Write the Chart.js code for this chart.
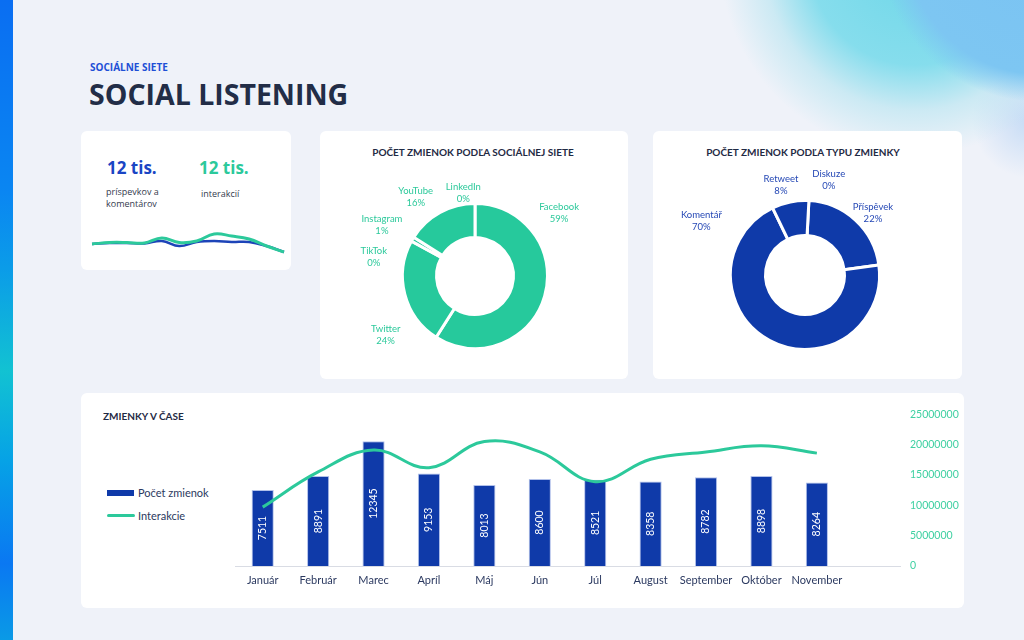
<!DOCTYPE html>
<html lang="sk">
<head>
<meta charset="utf-8">
<title>Social Listening</title>
<script src="https://cdn.jsdelivr.net/npm/chart.js@4.4.1/dist/chart.umd.min.js"></script>
<style>
  html, body { margin: 0; padding: 0; }
  body {
    width: 1024px; height: 640px; overflow: hidden; position: relative;
    font-family: Lato, 'Open Sans', sans-serif;
    background:
      radial-gradient(circle at 1040px -60px, rgba(122,195,243,1) 0, rgba(125,198,242,1) 134px, rgba(150,210,245,0) 162px),
      radial-gradient(circle at 915px -40px, rgba(110,215,232,1) 0, rgba(128,220,236,.95) 105px, rgba(180,228,240,.6) 150px, rgba(239,242,249,0) 195px),
      radial-gradient(circle at 1030px 120px, rgba(190,215,245,.85) 0, rgba(239,242,249,0) 58px),
      #eff2f9;
  }
  .strip {
    position: absolute; left: 0; top: 0; width: 13px; height: 640px;
    background: linear-gradient(180deg, #0a6ef2 0%, #0a86f2 30%, #0b9ce8 42%, #12c2d2 58%, #06a2e6 72%, #0a78f2 88%, #0a9ae6 100%);
  }
  .card { position: absolute; background: #fff; border-radius: 6px; }
  .abs { position: absolute; white-space: nowrap; }
  .kicker { left: 90px; top: 61px; font: 700 10px/12px 'Open Sans', sans-serif; color: #1d4fd6; }
  .title { left: 89px; top: 75px; font: 700 28.5px/38px 'Open Sans', sans-serif; color: #222d47; }
  .kpi { font: 700 17px/20px 'Open Sans', sans-serif; }
  .sub { font: 400 9px/12px 'Open Sans', sans-serif; color: #343b4e; }
  .ctitle { font: 700 10px/12px Lato, sans-serif; color: #1f2a44; }
  canvas { position: absolute; }
  .leg { font: 400 11px/14px Lato, sans-serif; color: #2b3960; }
</style>
</head>
<body>
<div class="strip"></div>

<div class="abs kicker">SOCIÁLNE SIETE</div>
<div class="abs title">SOCIAL LISTENING</div>

<div class="card" style="left:81px;top:131px;width:210px;height:139px"></div>
<div class="card" style="left:320px;top:131px;width:308px;height:248px"></div>
<div class="card" style="left:653px;top:131px;width:309px;height:248px"></div>
<div class="card" style="left:81px;top:393px;width:883px;height:215px"></div>

<div class="abs kpi" style="left:107px;top:158px;color:#1a45c4">12 tis.</div>
<div class="abs kpi" style="left:199px;top:158px;color:#2cc99b">12 tis.</div>
<div class="abs sub" style="left:106px;top:186px">príspevkov a<br>komentárov</div>
<div class="abs sub" style="left:201px;top:188px">interakcií</div>
<canvas id="spark" width="196" height="33" style="left:90px;top:225px;width:196px;height:33px"></canvas>

<div class="abs ctitle" style="left:320px;width:306px;text-align:center;top:146px">POČET ZMIENOK PODĽA SOCIÁLNEJ SIETE</div>
<canvas id="donutNet" width="300" height="220" style="left:325px;top:166px;width:300px;height:220px"></canvas>

<div class="abs ctitle" style="left:653px;width:300px;text-align:center;top:146px">POČET ZMIENOK PODĽA TYPU ZMIENKY</div>
<canvas id="donutType" width="300" height="220" style="left:655px;top:165px;width:300px;height:220px"></canvas>

<div class="abs ctitle" style="left:103px;top:410px">ZMIENKY V ČASE</div>
<div class="abs" style="left:107px;top:490px;width:27px;height:6px;background:#0f3aa9"></div>
<div class="abs leg" id="legBar" style="left:138px;top:486px"></div>
<div class="abs" style="left:107px;top:514px;width:28px;height:3px;background:#2cc99b;border-radius:2px"></div>
<div class="abs leg" id="legLine" style="left:138px;top:509px"></div>
<canvas id="timeline" width="730" height="198" style="left:235px;top:398px;width:730px;height:198px"></canvas>

<script>
// --- data ---
const months = ['Január', 'Február', 'Marec', 'Apríl', 'Máj', 'Jún', 'Júl', 'August', 'September', 'Október', 'November', ''];
const mentions = [7511, 8891, 12345, 9153, 8013, 8600, 8521, 8358, 8782, 8898, 8264, null];
const interactions = [9700000, 15500000, 19100000, 16200000, 20500000, 18800000, 13900000, 17600000, 18800000, 19800000, 18600000, null];

const networks = ['Facebook', 'Twitter', 'TikTok', 'Instagram', 'YouTube', 'LinkedIn'];
const networkShare = [59, 24, 0, 1, 16, 0];

const mentionTypes = ['Příspěvek', 'Komentář', 'Retweet', 'Diskuze'];
const typeShare = [22, 70, 8, 0];

const sparkInteractions = [14, 15.5, 15.5, 15, 20, 15.5, 17, 24, 22, 19, 12, 6];
const sparkMentions = [14, 15, 15, 14.5, 17, 12, 16, 17, 16, 16, 12, 6];

const seriesNames = ['Počet zmienok', 'Interakcie'];

// farby
const BLUE = '#0f3aa9';
const GREEN = '#2cc99b';

Chart.defaults.font.family = 'Lato, sans-serif';
Chart.defaults.animation = false;
Chart.defaults.events = [];
Chart.defaults.plugins.legend.display = false;
Chart.defaults.plugins.tooltip.enabled = false;

document.getElementById('legBar').textContent = seriesNames[0];
document.getElementById('legLine').textContent = seriesNames[1];

// popisky pri výsekoch (meno + percento)
const arcLabels = {
  id: 'arcLabels',
  afterDatasetsDraw(chart, args, opts) {
    const ctx = chart.ctx;
    const meta = chart.getDatasetMeta(0);
    const vals = chart.data.datasets[0].data;
    const total = vals.reduce((a, b) => a + b, 0);
    ctx.save();
    ctx.fillStyle = opts.color;
    ctx.font = '9.5px Lato, sans-serif';
    ctx.textAlign = 'center';
    ctx.textBaseline = 'middle';
    meta.data.forEach((arc, i) => {
      const p = arc.getProps(['x', 'y', 'startAngle', 'endAngle']);
      const a = (p.startAngle + p.endAngle) / 2 + (opts.nudge[i] || 0) * Math.PI / 180;
      const r = opts.dist[i];
      const x = p.x + Math.cos(a) * r;
      const y = p.y + Math.sin(a) * r;
      ctx.fillText(chart.data.labels[i], x, y - 6);
      ctx.fillText(Math.round(vals[i] / total * 100) + '%', x, y + 6);
    });
    ctx.restore();
  }
};

// hodnoty vo vnútri stĺpcov (otočené)
const barValues = {
  id: 'barValues',
  afterDatasetDraw(chart, args) {
    if (args.index !== 0) return;
    const ctx = chart.ctx;
    ctx.save();
    ctx.fillStyle = '#fff';
    ctx.font = '10.5px Lato, sans-serif';
    ctx.textAlign = 'center';
    ctx.textBaseline = 'middle';
    args.meta.data.forEach((bar, i) => {
      const v = mentions[i];
      if (v == null) return;
      const p = bar.getProps(['x', 'y', 'base']);
      ctx.save();
      ctx.translate(p.x, (p.y + p.base) / 2);
      ctx.rotate(-Math.PI / 2);
      ctx.fillText(String(v), 0, 0);
      ctx.restore();
    });
    ctx.restore();
  }
};

// sparkline v KPI karte
new Chart(document.getElementById('spark'), {
  type: 'line',
  data: {
    labels: sparkMentions.map((_, i) => i),
    datasets: [
      { data: sparkInteractions, borderColor: GREEN, borderWidth: 3, pointRadius: 0, tension: 0.4, clip: false },
      { data: sparkMentions, borderColor: '#1d44b8', borderWidth: 2.5, pointRadius: 0, tension: 0.4, clip: false }
    ]
  },
  options: {
    responsive: false,
    layout: { padding: { left: 2, right: 2 } },
    scales: { x: { display: false }, y: { display: false, min: 0, max: 33 } }
  }
});

new Chart(document.getElementById('donutNet'), {
  type: 'doughnut',
  data: {
    labels: networks,
    datasets: [{ data: networkShare, backgroundColor: '#26c99c', borderColor: '#fff', borderWidth: 3 }]
  },
  options: {
    responsive: false,
    cutout: '53%',
    layout: { padding: { left: 76, right: 76, top: 36, bottom: 36 } },
    plugins: {
      arcLabels: { color: GREEN, nudge: [-53, -19, -18, -2, -8, -8], dist: [105, 107, 103, 106, 99, 84] }
    }
  },
  plugins: [arcLabels]
});

new Chart(document.getElementById('donutType'), {
  type: 'doughnut',
  data: {
    labels: mentionTypes,
    datasets: [{ data: typeShare, backgroundColor: BLUE, borderColor: '#fff', borderWidth: 3 }]
  },
  options: {
    responsive: false,
    rotation: 3,
    cutout: '53%',
    layout: { padding: { left: 74, right: 74, top: 34, bottom: 34 } },
    plugins: {
      arcLabels: { color: '#2548b5', nudge: [5, 89.5, -3.6, 11], dist: [92, 117, 93, 98] }
    }
  },
  plugins: [arcLabels]
});

new Chart(document.getElementById('timeline'), {
  type: 'bar',
  data: {
    labels: months,
    datasets: [
      {
        type: 'bar', label: seriesNames[0], data: mentions, yAxisID: 'y', order: 2,
        backgroundColor: BLUE, borderColor: 'rgba(170,186,232,0.9)', borderWidth: 1,
        barPercentage: 0.4, categoryPercentage: 1
      },
      {
        type: 'line', label: seriesNames[1], data: interactions, yAxisID: 'y2', order: 1,
        borderColor: GREEN, borderWidth: 3, pointRadius: 0, tension: 0.4, fill: false
      }
    ]
  },
  options: {
    responsive: false,
    layout: { padding: { top: 8, left: 0, right: 0, bottom: 0 } },
    scales: {
      x: {
        grid: { display: false, drawTicks: false },
        border: { display: true, color: '#d9dce4', width: 1 },
        ticks: { color: '#2b3960', font: { size: 11 }, padding: 8, maxRotation: 0, autoSkip: false },
        afterFit: s => { s.height = 30; }
      },
      y: { display: false, min: 0, max: 15000 },
      y2: {
        position: 'right', min: 0, max: 25000000,
        grid: { display: false, drawTicks: false },
        border: { display: false },
        ticks: { stepSize: 5000000, color: '#3fd0a2', font: { size: 10.5 }, padding: 10, callback: v => String(v) },
        afterFit: s => { s.width = 65; }
      }
    }
  },
  plugins: [barValues]
});
</script>
</body>
</html>
